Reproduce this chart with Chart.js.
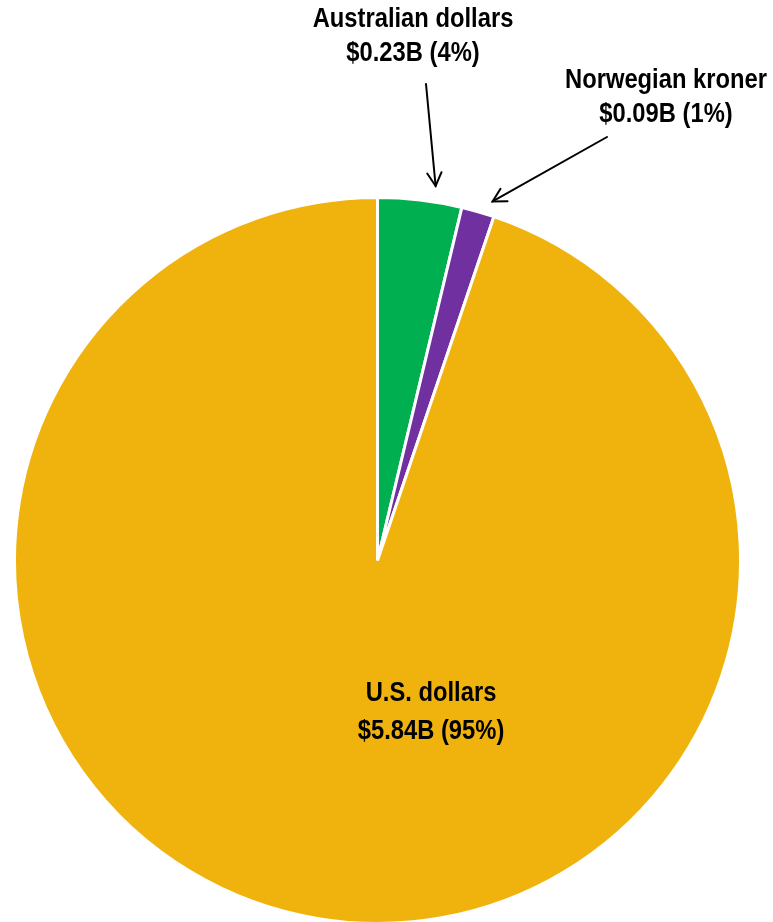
<!DOCTYPE html>
<html>
<head>
<meta charset="utf-8">
<script src="https://cdn.jsdelivr.net/npm/chart.js@4/dist/chart.umd.min.js"></script>
<style>
  html, body { margin: 0; padding: 0; background: #fff; overflow: hidden; height: 922px; }
  canvas { display: block; }
</style>
</head>
<body>
<canvas id="pie" width="773" height="930"></canvas>
<script>
// Currency holdings, in billions of U.S. dollars
const currencies = ['Australian dollars', 'Norwegian kroner', 'U.S. dollars'];
const amounts = [0.23, 0.09, 5.84];
const percentLabels = ['4%', '1%', '95%'];
const sliceColors = ['#00B050', '#7030A0', '#F0B30E'];

const FONT = 'bold 27px "Liberation Sans", Arial, sans-serif';
const NARROW = 0.88; // horizontal squeeze for a condensed face

function valueText(i) {
  return '$' + amounts[i].toFixed(2) + 'B (' + percentLabels[i] + ')';
}

// Callout placement for each slice: label centre, line offset and where the arrow leaves
const callouts = [
  { label: [413, 20], tail: [426, 84], tipAngle: 2.1, tipGap: 16 },
  { label: [666, 81], tail: [607, 137], tipAngle: 1.7, tipGap: 14 },
  { inside: true, label: [431, 694] }
];

function narrowText(ctx, text, x, y) {
  ctx.save();
  ctx.translate(x, y);
  ctx.scale(NARROW, 1);
  ctx.fillText(text, 0, 0);
  ctx.restore();
}

const labelPlugin = {
  id: 'sliceLabels',
  afterDraw(chart) {
    const ctx = chart.ctx;
    const arcs = chart.getDatasetMeta(0).data;
    ctx.save();
    ctx.font = FONT;
    ctx.fillStyle = '#000';
    ctx.textAlign = 'center';
    ctx.textBaseline = 'middle';
    currencies.forEach((name, i) => {
      const c = callouts[i];
      const lineGap = c.inside ? 38 : 34;
      narrowText(ctx, name, c.label[0], c.label[1]);
      narrowText(ctx, valueText(i), c.label[0], c.label[1] + lineGap);
      if (c.inside) return;
      const a = arcs[i];
      const mid = (a.startAngle + a.endAngle) / 2 + (c.tipAngle * Math.PI / 180);
      const r = a.outerRadius + c.tipGap;
      const tx = a.x + Math.cos(mid) * r;
      const ty = a.y + Math.sin(mid) * r;
      const [sx, sy] = c.tail;
      ctx.strokeStyle = '#000';
      ctx.lineWidth = 2;
      ctx.lineCap = 'round';
      ctx.beginPath();
      ctx.moveTo(sx, sy);
      ctx.lineTo(tx, ty);
      ctx.stroke();
      const ang = Math.atan2(ty - sy, tx - sx);
      const head = 15, spread = 0.5;
      ctx.beginPath();
      ctx.moveTo(tx - head * Math.cos(ang - spread), ty - head * Math.sin(ang - spread));
      ctx.lineTo(tx, ty);
      ctx.lineTo(tx - head * Math.cos(ang + spread), ty - head * Math.sin(ang + spread));
      ctx.stroke();
    });
    ctx.restore();
  }
};

new Chart(document.getElementById('pie'), {
  type: 'pie',
  data: {
    labels: currencies,
    datasets: [{
      data: amounts,
      backgroundColor: sliceColors,
      borderColor: '#ffffff',
      borderWidth: 3
    }]
  },
  options: {
    responsive: false,
    animation: false,
    devicePixelRatio: 1,
    layout: { padding: { left: 13, right: 31, top: 196, bottom: 5 } },
    plugins: {
      legend: { display: false },
      tooltip: { enabled: false }
    }
  },
  plugins: [labelPlugin]
});
</script>
</body>
</html>
